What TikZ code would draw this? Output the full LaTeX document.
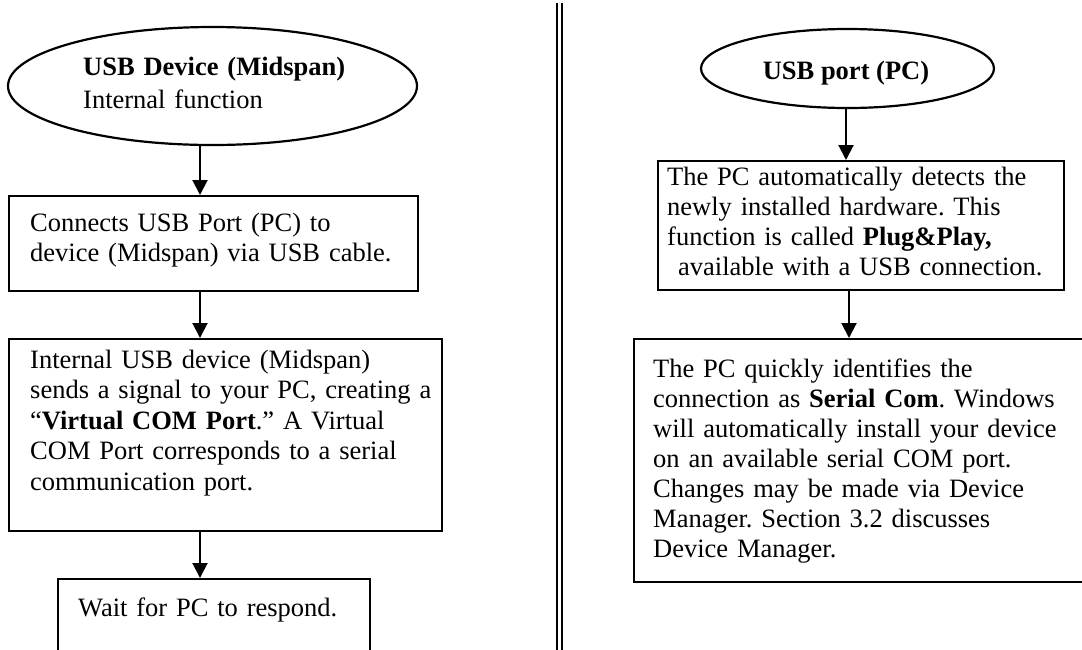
\documentclass[tikz,border=0pt]{standalone}
\usepackage{fontspec}
\setmainfont{Liberation Serif}
\usetikzlibrary{shapes.geometric,arrows.meta}
\frenchspacing
\begin{document}
\begin{tikzpicture}[x=1pt,y=-1pt,
  shapeline/.style={draw=black, line width=2.2pt},
  boxnode/.style={shapeline, rectangle, inner sep=0pt, anchor=north west},
  ovalnode/.style={shapeline, ellipse, inner sep=0pt},
  txt/.style={inner sep=0pt, anchor=base west, align=left, text width=460pt, font=\fontsize{26.5}{30.5}\selectfont},
  titletxt/.style={inner sep=0pt, anchor=base, font=\fontsize{26.5}{30.5}\selectfont\bfseries},
  arr/.style={line width=2pt, -{Triangle[length=15pt,width=15pt]}},
  divider/.style={line width=2.4pt}]
\useasboundingbox (0,0) rectangle (1082,649);

% ---------- left column ----------
\node[ovalnode, minimum width=409pt, minimum height=118pt] (EL) at (212.5,86) {};
\node[txt] (ELt) at (83,75) {\textbf{USB Device (Midspan)}\\[2.5pt]Internal function};

\node[boxnode, minimum width=409pt, minimum height=95pt] (L1) at (8,195) {};
\node[txt] (L1t) at (30,231) {Connects USB Port (PC) to\\device (Midspan) via USB cable.};

\node[boxnode, minimum width=433pt, minimum height=192pt] (L2) at (8,338) {};
\node[txt] (L2t) at (30,368) {Internal USB device (Midspan)\\sends a signal to your PC, creating a\\“\textbf{Virtual COM Port}.” A Virtual\\COM Port corresponds to a serial\\communication port.};

\node[boxnode, minimum width=312pt, minimum height=140pt] (L3) at (57,578) {};
\node[txt] (L3t) at (78,616) {Wait for PC to respond.};

\coordinate (ax) at (200,0);
\draw[arr] (EL.south -| ax) -- (L1.north -| ax);
\draw[arr] (L1.south -| ax) -- (L2.north -| ax);
\draw[arr] (L2.south -| ax) -- (L3.north -| ax);

% ---------- divider ----------
\coordinate (d1a) at (557,3);
\coordinate (d1b) at (557,660);
\coordinate (d2a) at (562,3);
\coordinate (d2b) at (562,660);
\draw[divider] (d1a) -- (d1b);
\draw[divider] (d2a) -- (d2b);

% ---------- right column ----------
\node[ovalnode, minimum width=293pt, minimum height=79pt] (ER) at (847.5,68.5) {};
\node[titletxt] (ERt) at (846,79) {USB port (PC)};

\node[boxnode, minimum width=406pt, minimum height=129pt] (R1) at (657,160) {};
\node[txt, font=\fontsize{26.5}{30}\selectfont] (R1t) at (667,185) {The PC automatically detects the\\newly installed hardware. This\\function is called \textbf{Plug\&Play,}\\\hspace*{11pt}available with a USB connection.};

\node[boxnode, minimum width=460pt, minimum height=243pt] (R2) at (633,338) {};
\node[txt, font=\fontsize{26.5}{30}\selectfont] (R2t) at (653,377) {The PC quickly identifies the\\connection as \textbf{Serial Com}. Windows\\will automatically install your device\\on an available serial COM port.\\Changes may be made via Device\\Manager. Section 3.2 discusses\\Device Manager.};

\coordinate (bx) at (846,0);
\coordinate (cx) at (849,0);
\draw[arr] (ER.south -| bx) -- (R1.north -| bx);
\draw[arr] (R1.south -| cx) -- (R2.north -| cx);
\end{tikzpicture}
\end{document}
